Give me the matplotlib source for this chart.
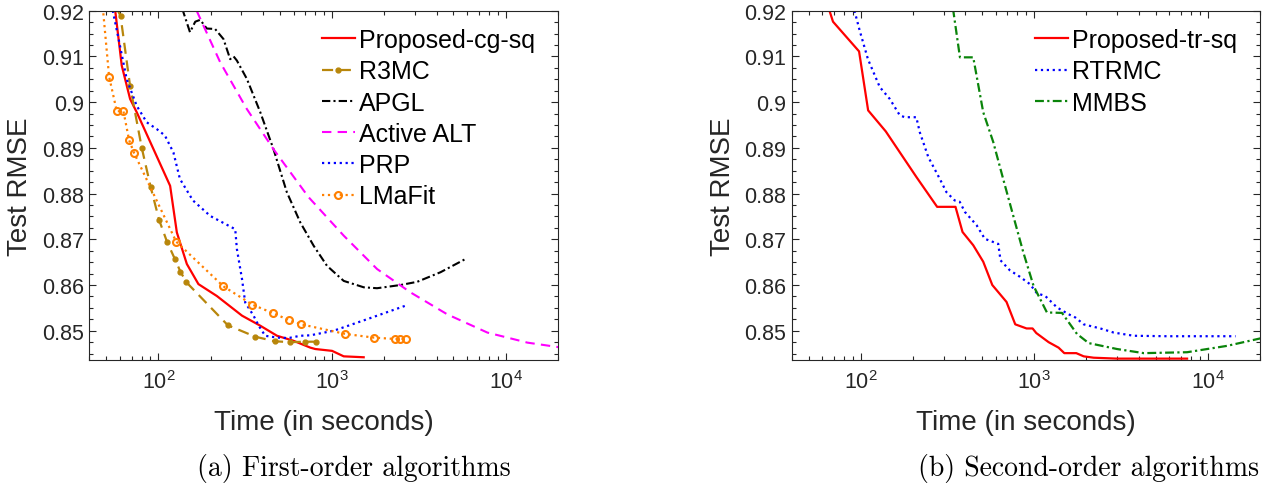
import numpy as np
import matplotlib
matplotlib.use("Agg")
import matplotlib.pyplot as plt
from matplotlib.ticker import FixedLocator, LogFormatterSciNotation, FuncFormatter, MultipleLocator

# -----------------------------------------------------------
# Data
# -----------------------------------------------------------

# (a) first-order algorithms
cg_sq_t = [56, 61.5, 68.7, 75, 116.8, 127.7, 145.8, 170, 217, 303, 386, 482, 600, 750, 801, 1000, 1167, 1521]
cg_sq_v = [0.921, 0.9080, 0.9007, 0.8978, 0.8817, 0.8715, 0.8646, 0.8602, 0.8576, 0.8533, 0.8511, 0.8489,
           0.8478, 0.8463, 0.8460, 0.8456, 0.8444, 0.8442]

r3mc_t = [57.5, 60.5, 68.7, 80.2, 90.3, 101, 112, 124, 134, 145, 251, 361, 467, 574, 701, 809]
r3mc_v = [0.9205, 0.9189, 0.9035, 0.8900, 0.8814, 0.8742, 0.8695, 0.8658, 0.8629, 0.8606, 0.8512, 0.8487,
          0.8477, 0.8475, 0.8476, 0.8476]

apgl_t = [137, 152, 163, 174, 190, 212, 237, 259, 271, 283, 323, 386, 460, 549, 656, 783, 935, 1167,
          1522, 1816, 2477, 3090, 4213, 5870]
apgl_v = [0.9205, 0.9153, 0.9176, 0.918, 0.9161, 0.916, 0.9138, 0.9094, 0.910, 0.9091, 0.9051, 0.8978,
          0.8897, 0.8803, 0.8737, 0.8686, 0.8642, 0.8609, 0.8595, 0.8593, 0.860, 0.8607, 0.8628, 0.8657]

active_alt_t = [166, 227, 323, 460, 733, 1167, 1816, 2826, 4600, 7840, 13330, 22000]
active_alt_v = [0.920, 0.9087, 0.8985, 0.8897, 0.8792, 0.8708, 0.8635, 0.8584, 0.8536, 0.8496, 0.8474, 0.8462]

prp_t = [54.6, 60.1, 65.7, 75, 85.6, 97.9, 109, 122, 133, 158, 199, 277, 283, 303, 316, 353, 378, 412,
         482, 562, 656, 750, 1021, 1585, 2704]
prp_v = [0.920, 0.9123, 0.905, 0.8992, 0.8956, 0.8941, 0.8927, 0.8890, 0.8832, 0.8785, 0.8751, 0.8722,
         0.8679, 0.8613, 0.8562, 0.8533, 0.8511, 0.8489, 0.8485, 0.8484, 0.8489, 0.8490, 0.850, 0.8525, 0.8556]

lmafit_t = [47.5, 52, 57.6, 62.9, 67.8, 72.4, 126.5, 237, 348, 460, 567, 665, 1194, 1738, 2297, 2477, 2680]
lmafit_v = [0.922, 0.9056, 0.898, 0.898, 0.8917, 0.8889, 0.8695, 0.8597, 0.8557, 0.8538, 0.8523, 0.8514,
            0.8493, 0.8485, 0.8482, 0.8482, 0.8482]

# (b) second-order algorithms
tr_sq_t = [65, 69.2, 97.8, 110.3, 139.4, 209.5, 275.6, 351.6, 386, 445, 508, 573, 692, 777, 903, 978,
           1027, 1210, 1381, 1490, 1747, 1927, 2200, 3000, 7600]
tr_sq_v = [0.9208, 0.9176, 0.9111, 0.8982, 0.8936, 0.8836, 0.8771, 0.8771, 0.8716, 0.8687, 0.8651, 0.860,
           0.8563, 0.8514, 0.8505, 0.8505, 0.8495, 0.8475, 0.8463, 0.8451, 0.8451, 0.8444, 0.8441, 0.8439, 0.8439]

rtrmc_t = [92, 98.7, 110, 128.7, 147, 168, 179.5, 209, 219, 245, 285.6, 312, 348, 372, 398, 465, 519, 620,
           639, 724, 827, 944, 1036, 1157, 1352, 1578, 1725, 1927, 2404, 2870, 3743, 5825, 14450]
rtrmc_v = [0.920, 0.9156, 0.9094, 0.9033, 0.9007, 0.8971, 0.8967, 0.8967, 0.8934, 0.888, 0.8832, 0.8803,
           0.8785, 0.8782, 0.876, 0.8731, 0.8701, 0.869, 0.8654, 0.8632, 0.8618, 0.8602, 0.8582, 0.8576,
           0.8551, 0.8536, 0.8529, 0.8514, 0.8505, 0.8496, 0.8489, 0.8488, 0.8488]

mmbs_t = [340, 373, 445, 508, 580, 662, 756, 864, 991, 1183, 1445, 1763, 2058, 3000, 4276, 7600, 12950, 20500]
mmbs_v = [0.9205, 0.9098, 0.9098, 0.8978, 0.8913, 0.8832, 0.8752, 0.8672, 0.8598, 0.854, 0.8539, 0.8493,
          0.8473, 0.846, 0.8451, 0.8453, 0.8467, 0.8484]

y_ticks = [0.85, 0.86, 0.87, 0.88, 0.89, 0.90, 0.91, 0.92]
x_ticks = [1e2, 1e3, 1e4]
captions = ["(a) First-order algorithms", "(b) Second-order algorithms"]

# -----------------------------------------------------------
# Plot settings
# -----------------------------------------------------------

plt.rcParams.update({
    "font.family": "Liberation Sans",
    "mathtext.fontset": "custom",
    "mathtext.rm": "Liberation Sans",
    "mathtext.it": "Liberation Sans:italic",
    "mathtext.bf": "Liberation Sans:bold",
    "font.size": 15.5,
    "axes.labelsize": 20,
    "xtick.labelsize": 15.5,
    "ytick.labelsize": 15.5,
    "legend.fontsize": 18,
})

AX_COL = "#262626"


def _style_axes(ax):
    ax.set_xscale("log")
    ax.set_xlim(40, 2e4)
    ax.set_ylim(0.8436, 0.92)
    ax.xaxis.set_major_locator(FixedLocator(x_ticks))
    ax.xaxis.set_major_formatter(LogFormatterSciNotation())
    ax.yaxis.set_major_locator(FixedLocator(y_ticks))
    ax.yaxis.set_major_formatter(FuncFormatter(lambda v, p: "%g" % round(v, 2)))
    ax.yaxis.set_minor_locator(MultipleLocator(0.0025))
    for s in ax.spines.values():
        s.set_color(AX_COL)
        s.set_linewidth(0.8)
    ax.tick_params(which="both", direction="in", top=True, right=True,
                   color=AX_COL, labelcolor=AX_COL, width=0.8)
    ax.tick_params(which="major", length=5)
    ax.tick_params(which="minor", length=3)
    ax.tick_params(axis="y", pad=4)
    ax.tick_params(axis="x", pad=7)
    ax.set_xlabel("Time (in seconds)", color=AX_COL)
    ax.set_ylabel("Test RMSE", color=AX_COL)
    ax.xaxis.set_label_coords(0.5, -0.14)
    ax.yaxis.set_label_coords(-0.12, 0.5)


fig = plt.figure(figsize=(12.76, 4.85), dpi=100)
W, H = 1276.0, 485.0
ax1 = fig.add_axes([89.3 / W, 1 - 361 / H, (558 - 89.3) / W, (361 - 11.7) / H])
ax2 = fig.add_axes([791.7 / W, 1 - 361 / H, (1260 - 791.7) / W, (361 - 11.7) / H])

# ---- (a) first-order ----
ax1.plot(cg_sq_t, cg_sq_v, color="#FF0000", lw=1.6, label="Proposed-cg-sq")
ax1.plot(r3mc_t, r3mc_v, color="#B8860B", lw=1.6, dashes=(5, 3), marker=".", ms=7, label="R3MC")
ax1.plot(apgl_t, apgl_v, color="black", lw=1.5, dashes=(4, 1.5, 1, 1.5), label="APGL")
ax1.plot(active_alt_t, active_alt_v, color="#FF00FF", lw=1.5, dashes=(4.5, 3), label="Active ALT")
ax1.plot(prp_t, prp_v, color="#0000FF", lw=1.6, ls=":", label="PRP")
ax1.plot(lmafit_t, lmafit_v, color="#FF8000", lw=1.6, ls=":", marker="o", ms=5, mfc="none",
         mew=1.5, label="LMaFit")

# ---- (b) second-order ----
ax2.plot(tr_sq_t, tr_sq_v, color="#FF0000", lw=1.6, label="Proposed-tr-sq")
ax2.plot(rtrmc_t, rtrmc_v, color="#0000FF", lw=1.6, ls=":", label="RTRMC")
ax2.plot(mmbs_t, mmbs_v, color="#0A840A", lw=1.6, dashes=(4, 1.5, 1, 1.5), label="MMBS")

for ax in (ax1, ax2):
    _style_axes(ax)
    ax.legend(loc="upper left", bbox_to_anchor=(0.497 if ax is ax1 else 0.52, 0.95),
              frameon=False, borderpad=0, borderaxespad=0, handlelength=1.3,
              handletextpad=0.17, labelspacing=0.29)

fig.text(354 / W, 1 - 469 / H, captions[0], ha="center", va="center", family="cmr10", fontsize=20)
fig.text(1089 / W, 1 - 469 / H, captions[1], ha="center", va="center", family="cmr10", fontsize=20)

fig.savefig("out.png", dpi=100)
